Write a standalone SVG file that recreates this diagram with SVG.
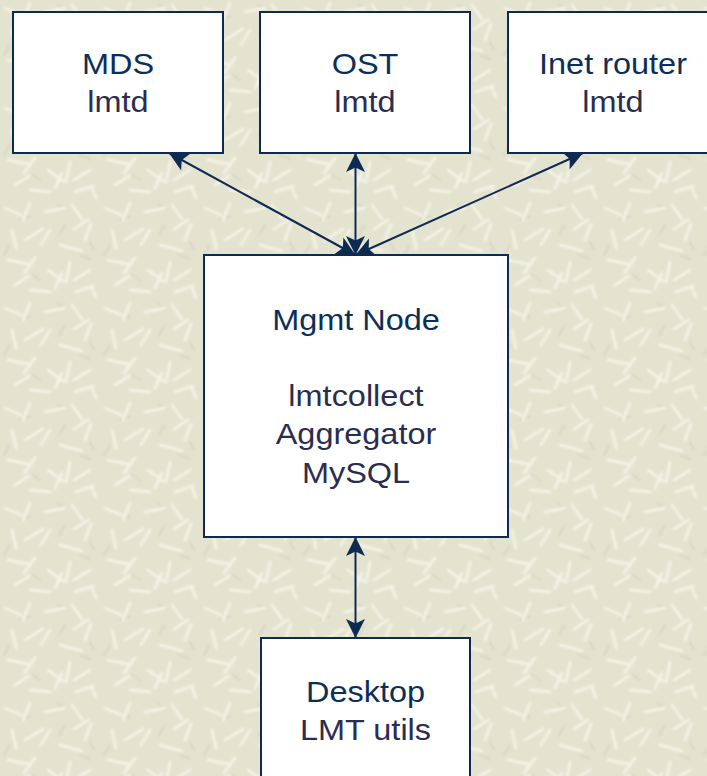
<svg xmlns="http://www.w3.org/2000/svg" width="707" height="776" viewBox="0 0 707 776">
  <defs>
    <style>
      .node rect { fill: #ffffff; stroke: #0d2a52; stroke-width: 2; }
      .title { font-family: "Liberation Sans", Arial, sans-serif; font-size: 29px; fill: #0c2f5a; text-anchor: middle; }
      .sub { font-family: "Liberation Sans", Arial, sans-serif; font-size: 29px; fill: #2b2d50; text-anchor: middle; }
      .link { stroke: #0d2a52; stroke-width: 2; fill: none; marker-start: url(#head); marker-end: url(#head); }
      .fleck { stroke: #f3f2e5; stroke-width: 3; stroke-linecap: round; fill: none; }
      .grain { stroke: #d9d7c2; stroke-width: 2; stroke-linecap: round; fill: none; }
    </style>
    <filter id="soft" x="-10%" y="-10%" width="120%" height="120%">
      <feGaussianBlur stdDeviation="0.8"/>
    </filter>
    <!-- stealth arrowhead, tip at the path end -->
    <marker id="head" viewBox="-20 -11 21 22" markerWidth="21" markerHeight="22" refX="0" refY="0" orient="auto-start-reverse" markerUnits="userSpaceOnUse">
      <path d="M0,0 L-19,-9.5 L-14.5,0 L-19,9.5 Z" fill="#0d2a52"/>
    </marker>
    <!-- paper texture tile -->
    <pattern id="paper" width="100" height="100" patternUnits="userSpaceOnUse">
      <rect width="100" height="100" fill="#e4e3d0"/>
      <g filter="url(#soft)">
        <path class="grain" d="M20 20 l10 -4 M65 25 l-6 10 M40 80 l-8 -6 M80 55 l10 4 M10 45 l-6 10 M58 4 l8 6 M94 50 l-4 -8"/>
        <path class="fleck" d="M5 8 l16 7 M30 3 l-7 17 M45 12 l20 -4 M72 5 l10 14 M88 20 l-14 9 M12 30 l4 18 M25 40 l18 -11 M50 30 l-9 15 M60 45 l22 6 M85 40 l6 -16 M8 60 l20 4 M35 58 l-11 15 M48 70 l15 11 M70 62 l-4 20 M90 70 l-16 10 M15 85 l14 -9 M30 90 l20 2 M55 88 l7 -15 M75 92 l18 -6 M92 88 l4 10"/>
      </g>
    </pattern>
  </defs>

  <rect width="707" height="776" fill="url(#paper)"/>

  <g id="connectors">
    <line class="link" x1="355.5" y1="255" x2="169" y2="153"/>
    <line class="link" x1="355.5" y1="255" x2="355.5" y2="153"/>
    <line class="link" x1="355.5" y1="255" x2="583" y2="153"/>
    <line class="link" x1="355.5" y1="537" x2="355.5" y2="638"/>
  </g>

  <g id="mds" class="node">
    <rect x="13" y="12" width="210" height="141"/>
    <g transform="translate(118 0) scale(1.12 1)">
      <text class="title" x="0" y="74">MDS</text>
      <text class="sub" x="0" y="112.5">lmtd</text>
    </g>
  </g>

  <g id="ost" class="node">
    <rect x="260" y="12" width="210" height="141"/>
    <g transform="translate(365 0) scale(1.12 1)">
      <text class="title" x="0" y="74">OST</text>
      <text class="sub" x="0" y="112.5">lmtd</text>
    </g>
  </g>

  <g id="inet-router" class="node">
    <rect x="508" y="12" width="210" height="141"/>
    <g transform="translate(613 0) scale(1.12 1)">
      <text class="title" x="0" y="74">Inet router</text>
      <text class="sub" x="0" y="112.5">lmtd</text>
    </g>
  </g>

  <g id="mgmt-node" class="node">
    <rect x="204" y="255" width="304" height="282"/>
    <g transform="translate(356 0) scale(1.12 1)">
      <text class="title" x="0" y="330.5">Mgmt Node</text>
      <text class="sub" x="0" y="406.5">lmtcollect</text>
      <text class="sub" x="0" y="444.5">Aggregator</text>
      <text class="sub" x="0" y="483">MySQL</text>
    </g>
  </g>

  <g id="desktop" class="node">
    <rect x="261" y="638" width="209" height="150"/>
    <g transform="translate(365.5 0) scale(1.12 1)">
      <text class="title" x="0" y="702.5">Desktop</text>
      <text class="sub" x="0" y="740.5">LMT utils</text>
    </g>
  </g>
</svg>
